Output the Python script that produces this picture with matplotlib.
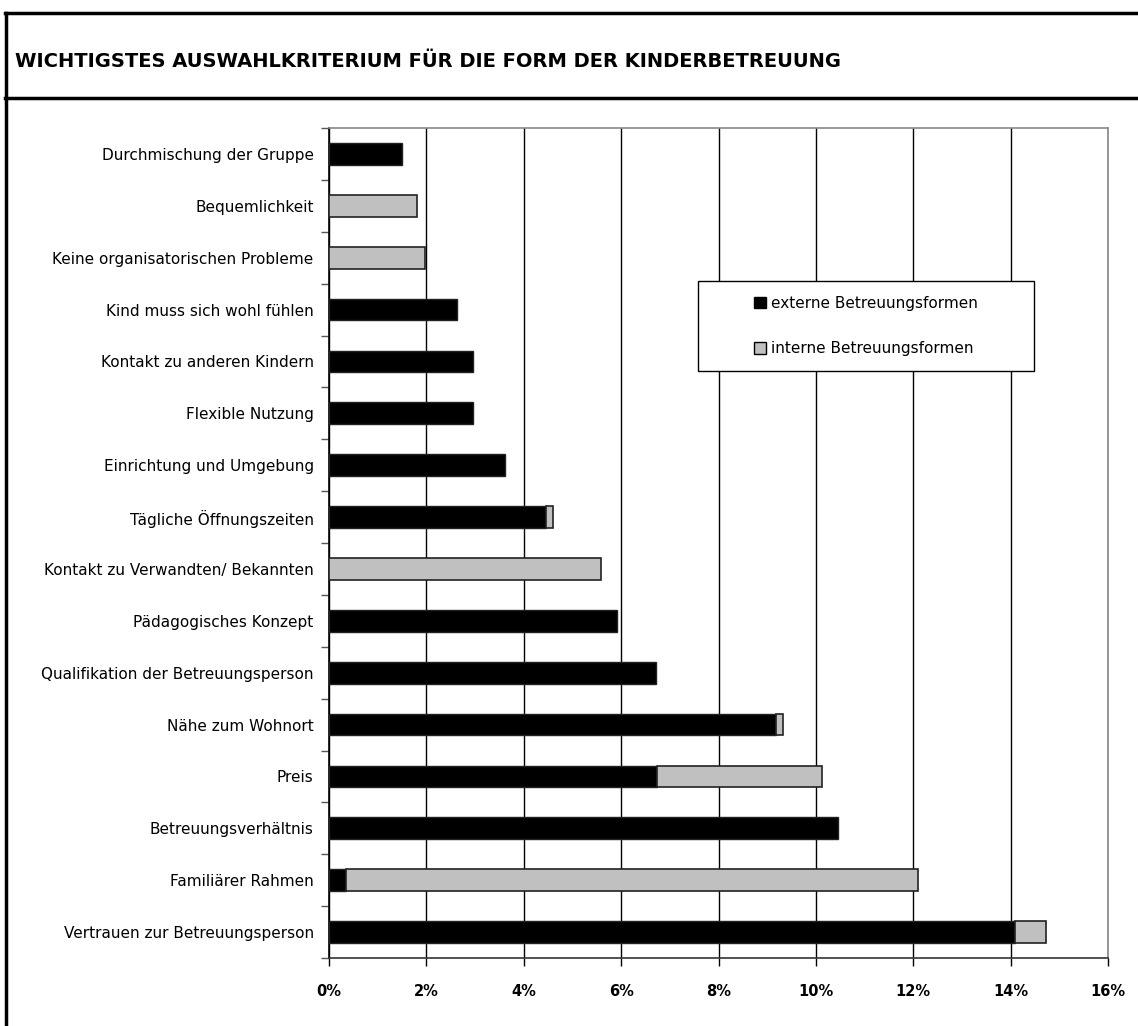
import numpy as np
import matplotlib
matplotlib.use("Agg")
import matplotlib.pyplot as plt
from matplotlib.lines import Line2D
from matplotlib.patches import Rectangle, Patch
from matplotlib.ticker import FuncFormatter, FixedLocator

# data, top to bottom as in the chart (values in %)
categories = [
    "Durchmischung der Gruppe",
    "Bequemlichkeit",
    "Keine organisatorischen Probleme",
    "Kind muss sich wohl fühlen",
    "Kontakt zu anderen Kindern",
    "Flexible Nutzung",
    "Einrichtung und Umgebung",
    "Tägliche Öffnungszeiten",
    "Kontakt zu Verwandten/ Bekannten",
    "Pädagogisches Konzept",
    "Qualifikation der Betreuungsperson",
    "Nähe zum Wohnort",
    "Preis",
    "Betreuungsverhältnis",
    "Familiärer Rahmen",
    "Vertrauen zur Betreuungsperson",
]
extern = [1.50, 0, 0, 2.63, 2.96, 2.96, 3.62, 4.46, 0, 5.92, 6.72, 9.19, 6.74, 10.46, 0.35, 14.08]
intern = [0, 1.81, 1.97, 0, 0, 0, 0, 0.14, 5.58, 0, 0, 0.14, 3.39, 0, 11.75, 0.64]
series_names = ["externe Betreuungsformen", "interne Betreuungsformen"]

W, H = 1138, 1026
fig = plt.figure(figsize=(W / 100, H / 100), dpi=100)
ax = fig.add_axes([329 / W, 1 - 958 / H, (1108 - 329) / W, (958 - 128) / H])

y = np.arange(len(categories))
ext = np.array(extern)
intl = np.array(intern)
grey = "#c0c0c0"

m = ext > 0
ax.barh(y[m], ext[m], height=0.42, color="black", edgecolor="#222222", linewidth=1, zorder=3)
m = intl > 0
ax.barh(y[m], intl[m], left=ext[m], height=0.42, color=grey, edgecolor="#222222", linewidth=1.2, zorder=3)

ax.set_xlim(0, 16)
ax.set_ylim(len(categories) - 0.5, -0.5)

ax.set_xticks(np.arange(0, 17, 2))
ax.xaxis.set_major_formatter(FuncFormatter(lambda v, p: f"{v:.0f}%"))
ax.grid(axis="x", color="black", linewidth=1, zorder=0)
ax.tick_params(axis="x", direction="out", length=6, width=1, pad=13,
               labelsize=10.5, colors="black")
for t in ax.get_xticklabels():
    t.set_fontweight("bold")

ax.set_yticks(y)
ax.set_yticklabels(categories, fontsize=11)
ax.tick_params(axis="y", which="major", length=0, pad=11)
ax.yaxis.set_minor_locator(FixedLocator(np.arange(-0.5, len(categories), 1)))
ax.tick_params(axis="y", which="minor", direction="out", length=6, width=1, color="#555555")

ax.spines["left"].set_color("black")
ax.spines["bottom"].set_color("#333333")
ax.spines["top"].set_color("#888888")
ax.spines["right"].set_color("#888888")
for s in ax.spines.values():
    s.set_linewidth(1.2)

# legend box
fig.add_artist(Rectangle((698 / W, 1 - 371 / H), 336 / W, 90 / H, transform=fig.transFigure,
                         facecolor="white", edgecolor="black", linewidth=1, zorder=5))
handles = [Patch(facecolor="black", edgecolor="black"),
           Patch(facecolor=grey, edgecolor="black")]
fig.legend(handles, series_names, loc="center", bbox_to_anchor=(866 / W, 1 - 326 / H),
           frameon=False, fontsize=11, handlelength=0.75, handleheight=0.75,
           handletextpad=0.35, labelspacing=2.0).set_zorder(6)

# title frame
fig.add_artist(Line2D([5 / W, 1], [1 - 13 / H, 1 - 13 / H], color="black", linewidth=2.5,
                      transform=fig.transFigure))
fig.add_artist(Line2D([5 / W, 1], [1 - 98 / H, 1 - 98 / H], color="black", linewidth=2.5,
                      transform=fig.transFigure))
fig.add_artist(Line2D([6 / W, 6 / W], [0, 1 - 13 / H], color="black", linewidth=2.5,
                      transform=fig.transFigure))
fig.text(15 / W, 1 - 62 / H, "WICHTIGSTES AUSWAHLKRITERIUM FÜR DIE FORM DER KINDERBETREUUNG",
         fontsize=14, fontweight="bold", va="center", ha="left")

fig.savefig("out.png", dpi=100)
